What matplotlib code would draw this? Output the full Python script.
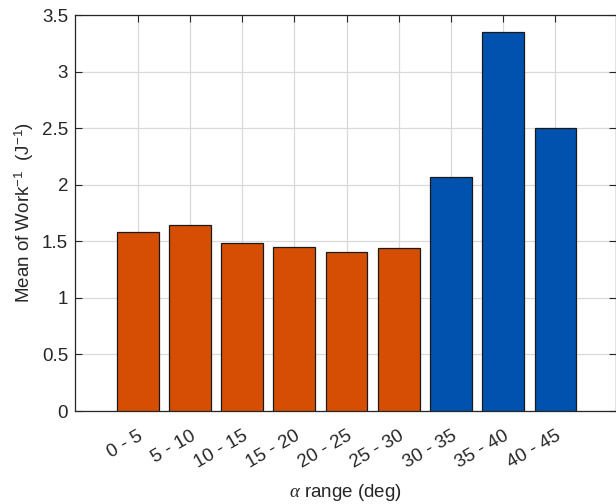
import matplotlib
matplotlib.use("Agg")
import matplotlib.pyplot as plt

plt.rcParams['font.family'] = ['Liberation Sans', 'DejaVu Sans']
plt.rcParams['mathtext.fontset'] = 'custom'
plt.rcParams['mathtext.rm'] = 'Liberation Sans'
plt.rcParams['mathtext.it'] = 'Liberation Serif:italic'

ranges = ['0 - 5', '5 - 10', '10 - 15', '15 - 20', '20 - 25', '25 - 30',
          '30 - 35', '35 - 40', '40 - 45']
mean_inv_work = [1.58, 1.645, 1.483, 1.453, 1.405, 1.438, 2.069, 3.351, 2.502]
group = ['low'] * 6 + ['high'] * 3
palette = {'low': '#D64E04', 'high': '#0052AE'}
yticks = [0, 0.5, 1, 1.5, 2, 2.5, 3, 3.5]
ytick_labels = ['0', '0.5', '1', '1.5', '2', '2.5', '3', '3.5']

ink = '#262626'
fs = 13.5
fig = plt.figure(figsize=(6.16, 5.04), dpi=100)
ax = fig.add_axes([75 / 616, 93 / 504, 540.5 / 616, 396 / 504])

x = list(range(1, len(ranges) + 1))
ax.bar(x, mean_inv_work, width=0.8, color=[palette[g] for g in group],
       edgecolor='#1a1a1a', linewidth=0.9, zorder=3)

ax.set_xlim(-0.2, 10.15)
ax.set_ylim(0, 3.5)
ax.set_xticks(x)
ax.set_xticklabels(ranges, rotation=30, ha='right', rotation_mode='anchor',
                   fontsize=fs, color=ink)
ax.set_yticks(yticks)
ax.set_yticklabels(ytick_labels, fontsize=fs, color=ink)

ax.tick_params(direction='in', top=True, right=True, length=5, width=0.8,
               color=ink, pad=5)
ax.tick_params(axis='x', pad=12)
for s in ax.spines.values():
    s.set_color(ink)
    s.set_linewidth(0.9)

ax.grid(True, color='#d9d9d9', linewidth=0.9, zorder=0)
ax.set_axisbelow(True)

ax.set_xlabel(r'$\mathit{\alpha}$ range (deg)', fontsize=fs, color=ink, labelpad=7)
ax.set_ylabel(r'Mean of Work$^{\mathregular{-1}}$  (J$^{\mathregular{-1}}$)',
              fontsize=fs, color=ink, labelpad=4)

fig.savefig('out.png', dpi=100)
